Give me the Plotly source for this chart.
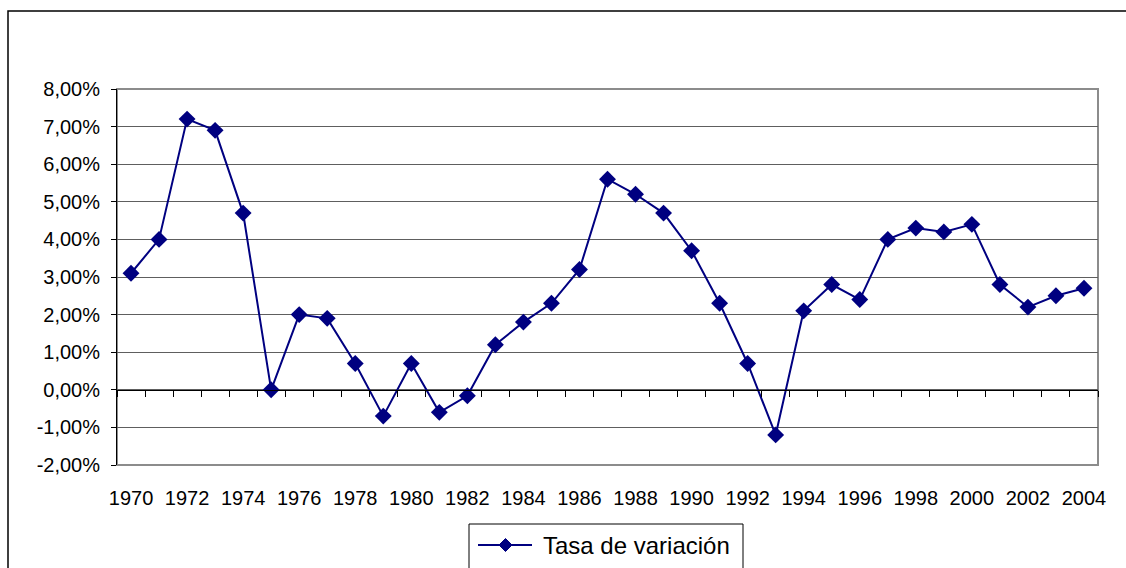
import plotly.graph_objects as go

# Annual growth rate, percent
years = list(range(1970, 2005))
tasa = [3.1, 4.0, 7.2, 6.9, 4.7, 0.0, 2.0, 1.9, 0.7, -0.7,
        0.7, -0.6, -0.16, 1.2, 1.8, 2.3, 3.2, 5.6, 5.2, 4.7,
        3.7, 2.3, 0.7, -1.2, 2.1, 2.8, 2.4, 4.0, 4.3, 4.2,
        4.4, 2.8, 2.2, 2.5, 2.7]
series_name = "Tasa de variación"

y_ticks = list(range(-2, 9))
y_ticktext = [f"{v},00%" for v in y_ticks]
x_ticks = list(range(1970, 2005, 2))
x_ticktext = [str(y) for y in x_ticks]

W, H = 1126, 568
L, R, T, B = 117, 28, 89, 103
PW, PH = W - L - R, H - T - B

def px_x(x):
    return (x - L) / PW

def px_y(y):
    return (H - B - y) / PH

FONT = "Liberation Sans, Arial, sans-serif"
NAVY = "#000080"

fig = go.Figure()
fig.add_trace(go.Scatter(
    x=years, y=tasa, mode="lines+markers", name=series_name,
    line=dict(color=NAVY, width=2),
    marker=dict(symbol="diamond", size=13, color=NAVY),
    showlegend=False,
))
# invisible trace so the category axis drawn on the zero line exists
fig.add_trace(go.Scatter(x=[years[0]], y=[0], xaxis="x2", mode="markers",
                         marker=dict(opacity=0), showlegend=False,
                         hoverinfo="skip"))

shapes = [
    # plot-area frame
    dict(type="rect", xref="paper", yref="paper", x0=0, x1=1, y0=0, y1=1,
         line=dict(color="#8c8c8c", width=2), layer="below"),
    # chart frame
    dict(type="rect", xref="paper", yref="paper",
         x0=px_x(8), x1=px_x(1140), y0=px_y(590), y1=px_y(11),
         line=dict(color="black", width=1.5), layer="below"),
    # legend box
    dict(type="rect", xref="paper", yref="paper",
         x0=px_x(469), x1=px_x(743), y0=px_y(600), y1=px_y(524),
         line=dict(color="black", width=1), fillcolor="white", layer="above"),
    # legend line sample
    dict(type="line", xref="paper", yref="paper",
         x0=px_x(478), x1=px_x(532), y0=px_y(545), y1=px_y(545),
         line=dict(color=NAVY, width=2), layer="above"),
]
cx, cy, r = 505.5, 545, 6.5
diamond = (f"M {px_x(cx)},{px_y(cy - r)} L {px_x(cx + r)},{px_y(cy)} "
           f"L {px_x(cx)},{px_y(cy + r)} L {px_x(cx - r)},{px_y(cy)} Z")
shapes.append(dict(type="path", xref="paper", yref="paper", path=diamond,
                   fillcolor=NAVY, line=dict(color=NAVY, width=1), layer="above"))

fig.update_layout(
    width=W, height=H,
    margin=dict(l=L, r=R, t=T, b=B, pad=0),
    paper_bgcolor="white", plot_bgcolor="white",
    font=dict(family=FONT, size=20, color="black"),
    showlegend=False,
    xaxis=dict(range=[1969.5, 2004.5], tickvals=x_ticks, ticktext=x_ticktext,
               showgrid=False, showline=False, zeroline=False, ticks="",
               ticklabelstandoff=19, tickfont=dict(size=20)),
    xaxis2=dict(overlaying="x", anchor="free", position=0.2,
                range=[1969.5, 2004.5],
                tickvals=[y - 0.5 for y in years] + [years[-1] + 0.5],
                showticklabels=False, showgrid=False, zeroline=False,
                showline=True, linecolor="black", linewidth=1,
                ticks="outside", ticklen=6, tickcolor="black", tickwidth=1),
    yaxis=dict(range=[-2, 8], tickvals=y_ticks, ticktext=y_ticktext,
               showgrid=True, gridcolor="#5e5e5e", gridwidth=1.2,
               zeroline=False, showline=True, linecolor="black", linewidth=1,
               ticks="outside", ticklen=5, tickcolor="black",
               ticklabelstandoff=7, tickfont=dict(size=20)),
    shapes=shapes,
    annotations=[dict(xref="paper", yref="paper", x=px_x(541), y=px_y(545),
                      text=series_name, showarrow=False, xanchor="left",
                      yanchor="middle", font=dict(size=24, family=FONT))],
)

fig.write_html("out.html")
